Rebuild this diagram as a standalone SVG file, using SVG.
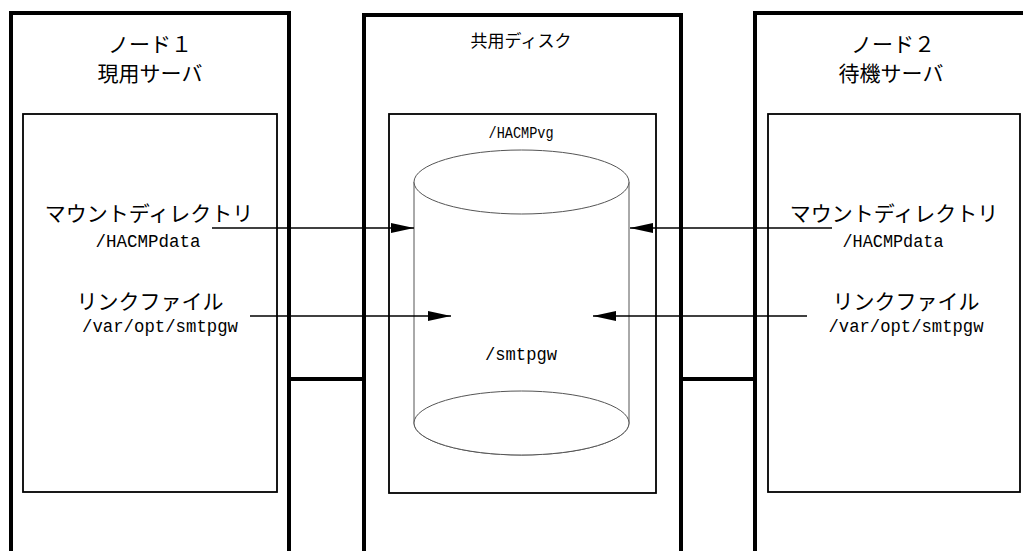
<svg xmlns="http://www.w3.org/2000/svg" width="1023" height="551" viewBox="0 0 1023 551">
<style>
.outer{fill:none;stroke:#000;stroke-width:4}
.inner{fill:none;stroke:#000;stroke-width:1.8}
.cyl{fill:#fff;stroke:#555;stroke-width:1}
.jp{font-family:"Noto Sans CJK JP","Liberation Sans",sans-serif;font-size:21px;fill:#000;text-anchor:middle}
.mono{font-family:"Liberation Mono",monospace;font-size:19px;fill:#000;text-anchor:middle}
.conn{stroke:#000;stroke-width:1.3;fill:none}
</style>
<defs>
<marker id="ah" markerWidth="23" markerHeight="10" refX="23" refY="5" orient="auto" markerUnits="userSpaceOnUse">
<path d="M0,0 L23,5 L0,10 Z" fill="#000"/>
</marker>
</defs>
<rect width="1023" height="551" fill="#fff"/>
<g id="node1">
<path class="outer" d="M11,560 V13 H289 V560"/>
<rect class="inner" x="23" y="114" width="254" height="378"/>
<text class="jp" x="150" y="52">ノード１</text>
<text class="jp" x="150" y="81">現用サーバ</text>
<text class="jp" x="149" y="221">マウントディレクトリ</text>
<text class="mono" x="148" y="247" textLength="105" lengthAdjust="spacingAndGlyphs">/HACMPdata</text>
<text class="jp" x="150" y="309">リンクファイル</text>
<text class="mono" x="160" y="332" textLength="156" lengthAdjust="spacingAndGlyphs">/var/opt/smtpgw</text>
</g>
<g id="disk">
<path class="outer" d="M364,560 V15 H681 V560"/>
<rect class="inner" x="389" y="114" width="267" height="379"/>
<text class="jp" x="521" y="47" style="font-size:17px">共用ディスク</text>
<text class="mono" x="521" y="138" style="font-size:16px" textLength="65" lengthAdjust="spacingAndGlyphs">/HACMPvg</text>
<path class="cyl" d="M414,182 V423 A107.5,32 0 0 0 629,423 V182"/>
<ellipse class="cyl" cx="521.5" cy="423" rx="107.5" ry="32"/>
<ellipse class="cyl" cx="521.5" cy="182" rx="107.5" ry="32"/>
<text class="mono" x="521" y="360" textLength="72" lengthAdjust="spacingAndGlyphs">/smtpgw</text>
</g>
<g id="node2">
<path class="outer" d="M755,560 V13 H1030"/>
<rect class="inner" x="768" y="114" width="252" height="378"/>
<text class="jp" x="893" y="52">ノード２</text>
<text class="jp" x="891" y="81">待機サーバ</text>
<text class="jp" x="894" y="221">マウントディレクトリ</text>
<text class="mono" x="893" y="247" textLength="101" lengthAdjust="spacingAndGlyphs">/HACMPdata</text>
<text class="jp" x="906" y="309">リンクファイル</text>
<text class="mono" x="906" y="332" textLength="155" lengthAdjust="spacingAndGlyphs">/var/opt/smtpgw</text>
</g>
<g id="connectors">
<line class="outer" x1="289" y1="379" x2="364" y2="379"/>
<line class="outer" x1="681" y1="379" x2="755" y2="379"/>
<line class="conn" x1="212" y1="228" x2="414" y2="228" marker-end="url(#ah)"/>
<line class="conn" x1="250" y1="316" x2="451" y2="316" marker-end="url(#ah)"/>
<line class="conn" x1="832" y1="228" x2="630" y2="228" marker-end="url(#ah)"/>
<line class="conn" x1="807" y1="316" x2="593" y2="316" marker-end="url(#ah)"/>
</g>
</svg>
